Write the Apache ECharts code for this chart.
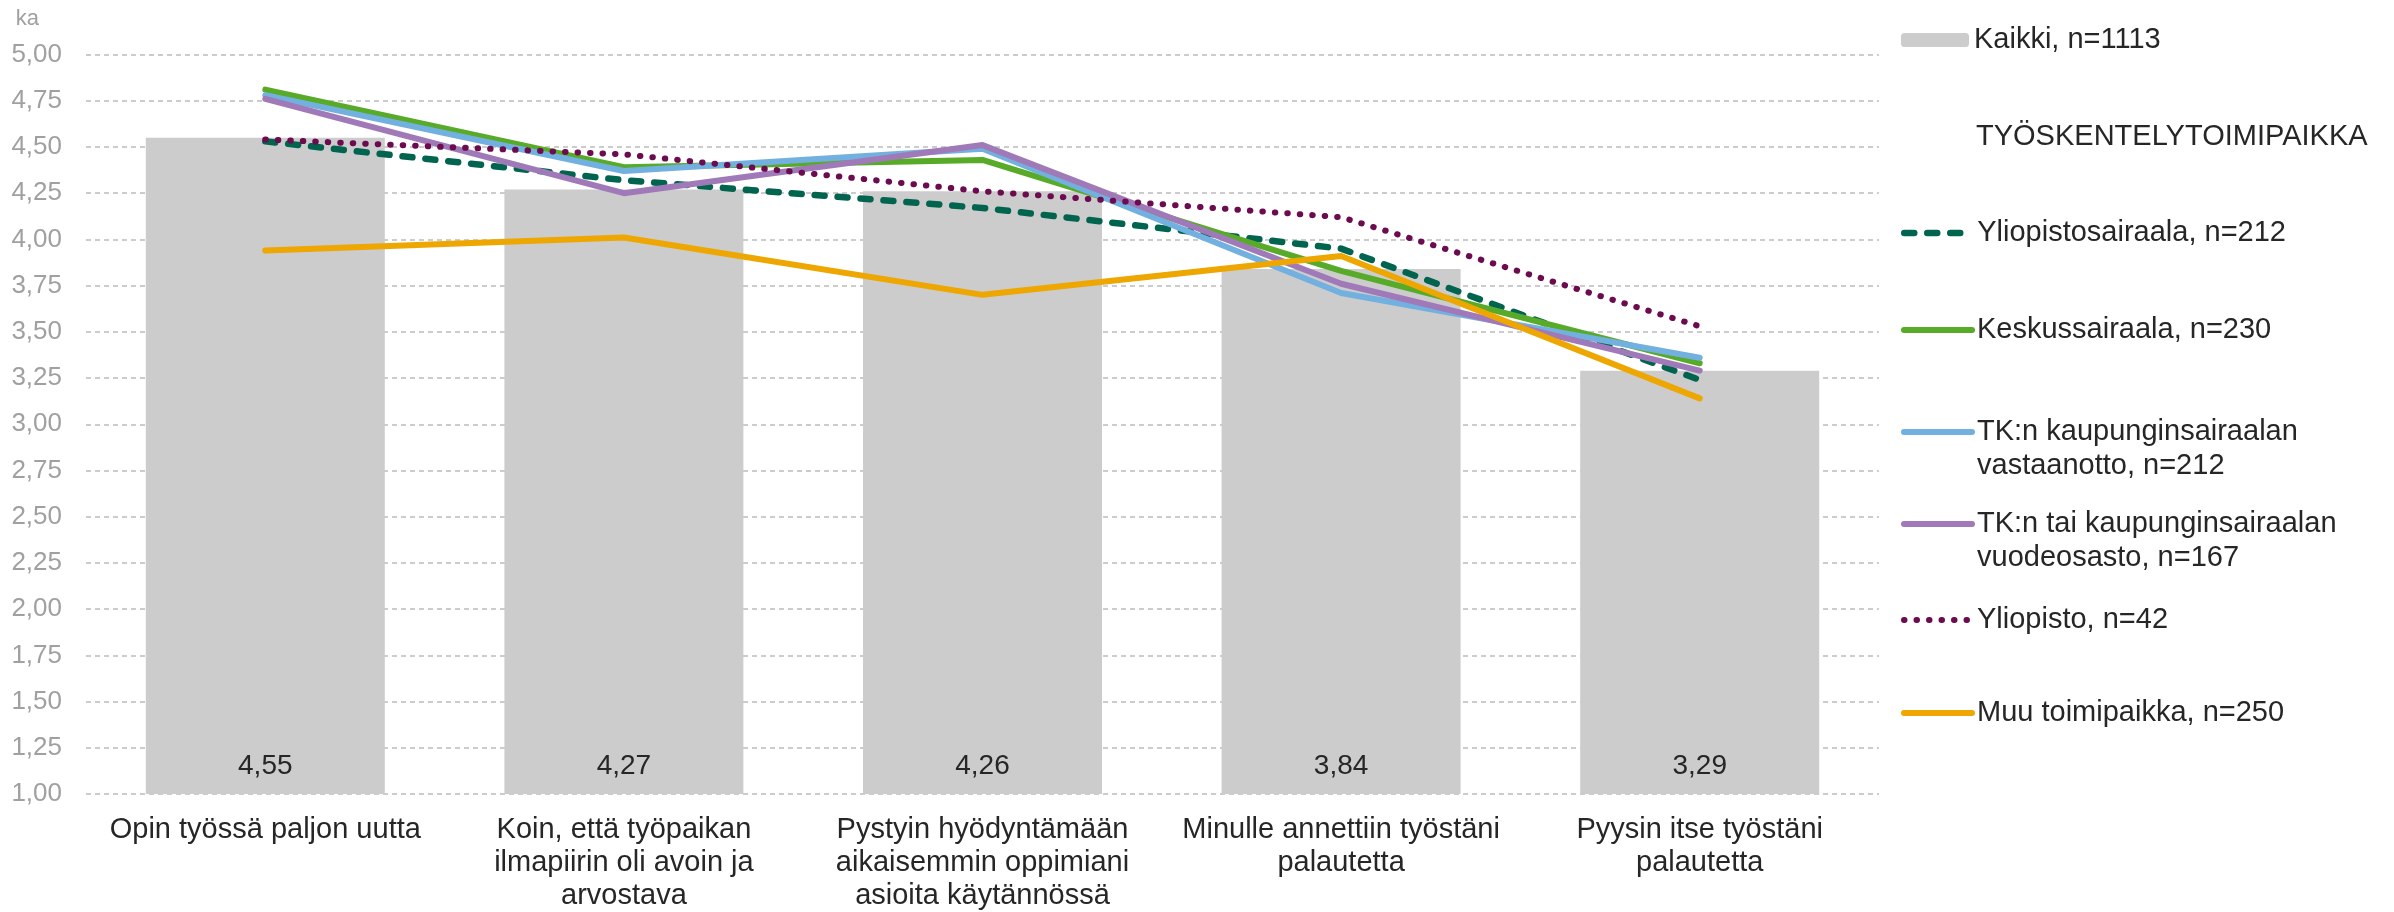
<!DOCTYPE html>
<html>
<head>
<meta charset="utf-8">
<script src="https://cdn.jsdelivr.net/npm/echarts@6/dist/echarts.min.js"></script>
<style>
  html, body { margin: 0; padding: 0; background: #ffffff; }
  #chart { width: 2394px; height: 912px; }
</style>
</head>
<body>
<div id="chart"></div>
<script>
const categories = [
  'Opin työssä paljon uutta',
  'Koin, että työpaikan\nilmapiirin oli avoin ja\narvostava',
  'Pystyin hyödyntämään\naikaisemmin oppimiani\nasioita käytännössä',
  'Minulle annettiin työstäni\npalautetta',
  'Pyysin itse työstäni\npalautetta'
]
const yTicks = { min: 1, max: 5, step: 0.25 }

const kaikki = [4.55, 4.27, 4.26, 3.84, 3.29]
const yliopistosairaala = [4.53, 4.32, 4.17, 3.95, 3.24]
const keskussairaala = [4.81, 4.39, 4.43, 3.83, 3.33]
const tkVastaanotto = [4.78, 4.37, 4.49, 3.71, 3.36]
const tkVuodeosasto = [4.76, 4.25, 4.51, 3.76, 3.29]
const yliopisto = [4.54, 4.46, 4.26, 4.12, 3.53]
const muu = [3.94, 4.01, 3.70, 3.91, 3.14]

const names = {
  kaikki: 'Kaikki, n=1113',
  ys: 'Yliopistosairaala, n=212',
  ks: 'Keskussairaala, n=230',
  tk1: 'TK:n kaupunginsairaalan\nvastaanotto, n=212',
  tk2: 'TK:n tai kaupunginsairaalan\nvuodeosasto, n=167',
  yo: 'Yliopisto, n=42',
  muu: 'Muu toimipaikka, n=250'
}

const FONT = '"Liberation Sans", Arial, sans-serif'
const fmt = (v) => Number(v).toFixed(2).replace('.', ',')

const chart = echarts.init(document.getElementById('chart'))

const lineSeries = (name, data, color, width, type) => ({
  name,
  type: 'line',
  data,
  symbol: 'none',
  lineStyle: { color, width, type, cap: 'round', join: 'round' },
  itemStyle: { color },
  emphasis: { disabled: true }
})

// one legend per row so the rows sit where the reference has them.
// two-line names get an empty first line so the icon lines up with the first text line
const legendRow = (name, top, isLine, twoLines) => ({
  data: [name],
  left: 1901,
  top,
  padding: 0,
  itemWidth: 68,
  itemHeight: 14,
  selectedMode: false,
  formatter: twoLines ? (n) => '\n' + n : '{name}',
  itemStyle: isLine ? { opacity: 0 } : {},
  lineStyle: { width: 'inherit', type: 'inherit', cap: 'round' },
  textStyle: {
    fontFamily: FONT,
    fontSize: 29,
    color: '#262626',
    lineHeight: 34
  }
})

const option = {
  animation: false,
  backgroundColor: '#ffffff',
  textStyle: { fontFamily: FONT },
  grid: { left: 86, right: 515, top: 54.5, bottom: 117 },
  legend: [
    legendRow(names.kaikki, 23, false),
    legendRow(names.ys, 216, true),
    legendRow(names.ks, 313, true),
    legendRow(names.tk1, 381, true, true),
    legendRow(names.tk2, 473, true, true),
    legendRow(names.yo, 603, true),
    legendRow(names.muu, 696, true)
  ],
  graphic: [{
    type: 'text',
    left: 1976,
    top: 122,
    style: {
      text: 'TYÖSKENTELYTOIMIPAIKKA',
      font: '29px ' + FONT,
      fill: '#262626'
    }
  }],
  xAxis: {
    type: 'category',
    data: categories,
    axisLine: { show: false },
    axisTick: { show: false },
    axisLabel: {
      interval: 0,
      margin: 19,
      fontSize: 29,
      lineHeight: 33,
      color: '#262626',
      fontFamily: FONT
    }
  },
  yAxis: {
    type: 'value',
    min: yTicks.min,
    max: yTicks.max,
    interval: yTicks.step,
    name: 'ka',
    nameLocation: 'end',
    nameGap: 25,
    nameTextStyle: {
      fontSize: 22,
      color: '#a0a0a0',
      fontFamily: FONT,
      align: 'right',
      padding: [0, 47, 0, 0]
    },
    axisLine: { show: false },
    axisTick: { show: false },
    axisLabel: {
      margin: 24,
      fontSize: 26,
      color: '#a0a0a0',
      fontFamily: FONT,
      formatter: fmt
    },
    splitLine: { lineStyle: { color: '#bcbcbc', width: 1.5, type: [5, 4] } }
  },
  series: [
    {
      name: names.kaikki,
      type: 'bar',
      data: kaikki,
      barWidth: 239,
      itemStyle: { color: '#cccccc' },
      emphasis: { disabled: true },
      label: {
        show: true,
        position: 'insideBottom',
        distance: 14,
        fontSize: 28,
        color: '#262626',
        fontFamily: FONT,
        formatter: (p) => fmt(p.value)
      }
    },
    lineSeries(names.ys, yliopistosairaala, '#00644f', 6.5, [10, 13]),
    lineSeries(names.ks, keskussairaala, '#58ab28', 6, 'solid'),
    lineSeries(names.tk1, tkVastaanotto, '#72b1df', 6, 'solid'),
    lineSeries(names.tk2, tkVuodeosasto, '#a07ab8', 6, 'solid'),
    lineSeries(names.yo, yliopisto, '#6c0b4f', 6, [0.5, 12]),
    lineSeries(names.muu, muu, '#eea600', 6, 'solid')
  ]
}

chart.setOption(option)
window.addEventListener('resize', () => chart.resize())
</script>
</body>
</html>
